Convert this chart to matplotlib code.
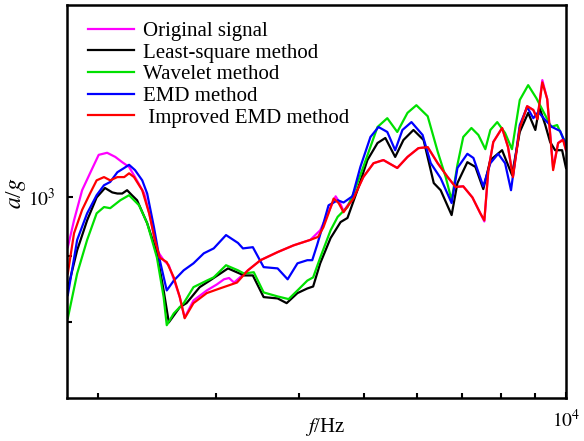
import matplotlib
matplotlib.use("Agg")
import matplotlib.pyplot as plt
from matplotlib.ticker import FixedLocator, FixedFormatter, NullFormatter

plt.rcParams['font.family'] = ['Liberation Serif', 'DejaVu Serif']
plt.rcParams['mathtext.fontset'] = 'stix'

# Values (Hz, a/g)

origFreq = [1805, 1844, 1896, 1948, 2007, 2066, 2125, 2176, 2228, 2274, 2347, 2395, 2452, 2509, 2554,
            2598, 2652, 2697, 2780, 2910, 3011, 3087, 3141, 3196, 3352, 3500, 3712, 3921, 4153, 4297,
            4422, 4531, 4609, 4656, 4734, 4817, 4983, 5161, 5339, 5600, 5800, 6022, 6217, 6435, 6659,
            6841, 7025, 7250, 7450, 7553, 7658, 7789, 8028, 8194, 8333, 8531, 8750, 8938, 9063, 9219,
            9375, 9567, 9733, 9900, 10000]
origAmp = [915, 960, 1013, 1044, 1079, 1083, 1075, 1065, 1056, 1037, 1007, 966, 910, 894, 886,
           864, 837, 807, 832, 847, 856, 864, 866, 859, 878, 894, 907, 918, 927, 943,
           974, 1002, 988, 976, 988, 1000, 1037, 1063, 1069, 1054, 1075, 1092, 1094, 1063, 1037,
           1019, 1020, 1000, 972, 958, 1050, 1104, 1132, 1094, 1037, 1132, 1177, 1169, 1150, 1233,
           1192, 1054, 1102, 1110, 1088]

lsqFreq = [1805, 1864, 1929, 1993, 2051, 2103, 2140, 2176, 2213, 2250, 2290, 2371, 2452, 2509, 2554,
           2652, 2714, 2840, 2940, 3130, 3307, 3409, 3538, 3712, 3829, 3974, 4111, 4194, 4297, 4453,
           4609, 4719, 4883, 5054, 5232, 5375, 5560, 5720, 5920, 6130, 6348, 6500, 6750, 6886, 7125,
           7325, 7526, 7711, 8028, 8306, 8531, 8781, 9000, 9125, 9313, 9469, 9633, 9867, 10000]
lsqAmp = [850, 910, 960, 1000, 1017, 1009, 1007, 1007, 1013, 1004, 995, 955, 905, 847, 800,
          822, 828, 852, 862, 881, 870, 870, 837, 835, 828, 843, 850, 853, 889, 930,
          957, 964, 1013, 1069, 1102, 1112, 1075, 1108, 1128, 1108, 1026, 1013, 969, 1026, 1065,
          1056, 1015, 1069, 1088, 1041, 1124, 1163, 1128, 1175, 1138, 1104, 1088, 1088, 1054]

wavFreq = [1805, 1864, 1929, 1993, 2044, 2088, 2162, 2228, 2306, 2371, 2452, 2509, 2536, 2598, 2688,
           2780, 2910, 2980, 3109, 3239, 3307, 3420, 3538, 3712, 3855, 3974, 4111, 4194, 4297, 4453,
           4563, 4719, 4817, 4983, 5232, 5411, 5600, 5800, 5980, 6217, 6435, 6614, 6750, 6886, 7025,
           7225, 7400, 7579, 7711, 7895, 8111, 8306, 8531, 8781, 9031, 9313, 9500, 9700, 9900, 10000]
wavAmp = [806, 873, 927, 972, 983, 981, 995, 1004, 986, 955, 898, 837, 796, 813, 828,
          852, 862, 867, 886, 878, 873, 875, 844, 838, 834, 847, 862, 867, 898, 943,
          966, 983, 1007, 1056, 1134, 1152, 1124, 1163, 1179, 1156, 1085, 1037, 995, 1060, 1114,
          1132, 1118, 1090, 1128, 1144, 1122, 1090, 1190, 1222, 1194, 1158, 1134, 1138, 1112, 1104]

emdFreq = [1805, 1864, 1929, 1993, 2044, 2088, 2140, 2191, 2228, 2274, 2331, 2371, 2427, 2476, 2536,
           2598, 2688, 2780, 2880, 2980, 3109, 3239, 3295, 3409, 3538, 3712, 3842, 3974, 4111, 4181,
           4250, 4328, 4422, 4563, 4656, 4800, 4933, 5107, 5250, 5411, 5560, 5700, 5880, 6109, 6283,
           6500, 6750, 6886, 7125, 7275, 7526, 7711, 7921, 8111, 8278, 8531, 8750, 8938, 9094, 9313,
           9533, 9800, 10000]
emdAmp = [840, 927, 972, 1004, 1022, 1028, 1046, 1054, 1060, 1050, 1031, 1007, 948, 894, 847,
          862, 878, 889, 905, 913, 935, 922, 913, 915, 883, 881, 864, 889, 894, 894,
          918, 948, 986, 995, 991, 1002, 1056, 1114, 1134, 1124, 1088, 1128, 1144, 1118, 1063,
          1035, 990, 1054, 1081, 1073, 1020, 1063, 1081, 1063, 1013, 1138, 1175, 1152, 1165, 1148,
          1134, 1126, 1098]

impFreq = [1805, 1844, 1896, 1948, 1993, 2044, 2088, 2140, 2191, 2228, 2266, 2331, 2387, 2435, 2476,
           2536, 2598, 2652, 2697, 2780, 2910, 3043, 3228, 3352, 3500, 3712, 3921, 4153, 4266, 4344,
           4422, 4500, 4578, 4656, 4734, 4817, 4983, 5161, 5339, 5600, 5800, 6022, 6217, 6435, 6659,
           6841, 7025, 7250, 7450, 7553, 7658, 7789, 8028, 8194, 8333, 8531, 8750, 8938, 9063, 9219,
           9375, 9567, 9733, 9900, 10000]
impAmp = [873, 938, 978, 1007, 1031, 1037, 1031, 1037, 1037, 1044, 1037, 1013, 972, 927, 898,
          891, 867, 837, 806, 828, 843, 850, 859, 878, 894, 907, 918, 927, 932, 948,
          972, 998, 990, 974, 986, 998, 1037, 1063, 1069, 1054, 1075, 1092, 1094, 1063, 1037,
          1019, 1020, 1000, 972, 960, 1050, 1104, 1132, 1094, 1037, 1132, 1177, 1169, 1150, 1228,
          1192, 1050, 1102, 1108, 1088]

labels = ['Original signal', 'Least-square method', 'Wavelet method', 'EMD method', ' Improved EMD method']
colors = ['#ff00ff', '#000000', '#00e000', '#0000ff', '#ff0000']

fig = plt.figure(figsize=(5.84, 4.41), dpi=100)
ax = fig.add_axes([67/584, 43/441, 499/584, 393/441])

series = [(origFreq, origAmp), (lsqFreq, lsqAmp), (wavFreq, wavAmp), (emdFreq, emdAmp), (impFreq, impAmp)]
for (fq, amp), lab, col in zip(series, labels, colors):
    ax.plot(fq, amp, color=col, linewidth=1.6, label=lab)

ax.set_xscale('log')
ax.set_yscale('log')
ax.set_xlim(1800, 10000)
ax.set_ylim(699, 1410)

ax.xaxis.set_major_locator(FixedLocator([10000]))
ax.xaxis.set_major_formatter(FixedFormatter([r'$10^4$']))
ax.xaxis.set_minor_locator(FixedLocator([2000, 3000, 4000, 5000, 6000, 7000, 8000, 9000]))
ax.xaxis.set_minor_formatter(NullFormatter())
ax.yaxis.set_major_locator(FixedLocator([1000]))
ax.yaxis.set_major_formatter(FixedFormatter([r'$10^3$']))
ax.yaxis.set_minor_locator(FixedLocator([800, 900]))
ax.yaxis.set_minor_formatter(NullFormatter())

ax.tick_params(axis='both', which='both', direction='in', width=1.5, top=False, right=False)
ax.tick_params(axis='both', which='major', length=4, labelsize=14)
ax.tick_params(axis='both', which='minor', length=3.5)
ax.tick_params(axis='x', which='major', pad=8)
ax.tick_params(axis='y', which='major', pad=8)

for sp in ax.spines.values():
    sp.set_linewidth(1.8)

ax.set_xlabel(r'$f$/Hz', fontsize=15)
ax.set_ylabel(r'$a$/$g$', fontsize=17)
ax.xaxis.set_label_coords(0.517, -0.045)
ax.yaxis.set_label_coords(-0.078, 0.52)

ax.legend(loc='upper left', bbox_to_anchor=(0.042, 0.958), frameon=False, fontsize=15,
          handlelength=2.2, handletextpad=0.45, labelspacing=0.1, borderpad=0, borderaxespad=0)

plt.savefig('out.png', dpi=100)
